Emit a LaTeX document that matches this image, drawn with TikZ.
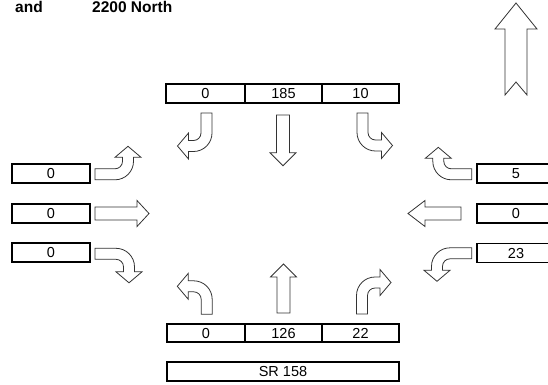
\documentclass[tikz,border=0pt]{standalone}
\usepackage{fontspec}
\setmainfont{Liberation Sans}
\tikzset{
  lanebox/.style={draw, line width=1.6pt, inner sep=0pt, minimum height=19pt,
    font=\fontsize{14.5}{14.5}\selectfont},
  headtext/.style={anchor=base west, inner sep=0pt,
    font=\fontsize{15.5}{15.5}\selectfont\bfseries},
  blockarrow/.style={draw=black!80, fill=white, line width=0.8pt, line join=miter},
  pics/bentarrow/.style args={#1/#2/#3}{code={
    \draw[blockarrow] (0,5.5) -- (#1,5.5) arc[start angle=90, end angle=0, radius={#2+5.5}]
      -- ({#1+#2+5.5},{-#2-#3}) -- ({#1+#2+13},{-#2-#3}) -- ({#1+#2},{-#2-#3-11})
      -- ({#1+#2-13},{-#2-#3}) -- ({#1+#2-5.5},{-#2-#3}) -- ({#1+#2-5.5},{-#2})
      arc[start angle=0, end angle=90, radius={#2-5.5}] -- (0,-5.5) -- cycle;
  }},
  pics/thruarrow/.style args={#1/#2}{code={
    \draw[blockarrow] (0,6.5) -- (#1,6.5) -- (#1,13) -- ({#1+#2},0) -- (#1,-13)
      -- (#1,-6.5) -- (0,-6.5) -- cycle;
  }},
}
\begin{document}
\begin{tikzpicture}[x=1pt,y=-1pt]
\useasboundingbox (0,0) rectangle (548,384);
\clip (0,0) rectangle (548,384);

\node[headtext] (lbl-and) at (15,12.7) {and};
\node[headtext] (lbl-road) at (92,12.7) {2200 North};

% north arrow
\draw[blockarrow] (505,95) -- (505,29) -- (495,29) -- (516,3) -- (537,29) -- (527,29)
  -- (527,95) -- (516,82) -- cycle;

% southbound
\node[lanebox, minimum width=79pt] (sb-right) at (205.5,93.5) {0};
\node[lanebox, minimum width=77pt] (sb-thru) at (283.5,93.5) {185};
\node[lanebox, minimum width=77pt] (sb-left) at (360.5,93.5) {10};
\pic[rotate=-90, yscale=-1] at (206.5,113) {bentarrow=20/13/5};
\pic[rotate=-90] at (283,115) {thruarrow=37.7/13};
\pic[rotate=-90] at (362.5,113) {bentarrow=19.5/13/6};

% northbound
\node[lanebox, minimum width=78pt, minimum height=18pt] (nb-left) at (206,333) {0};
\node[lanebox, minimum width=77pt, minimum height=18pt] (nb-thru) at (283.5,333) {126};
\node[lanebox, minimum width=77pt, minimum height=18pt] (nb-right) at (360.5,333) {22};
\node[lanebox, minimum width=232pt] (road-name) at (283,371.5) {SR 158};
\pic[rotate=90] at (206.7,314.3) {bentarrow=15/13/5.4};
\pic[rotate=90] at (283.5,313) {thruarrow=36/13};
\pic[rotate=90, yscale=-1] at (362,314) {bentarrow=18.5/13/5};

% eastbound
\node[lanebox, minimum width=78pt] (eb-left) at (51,173.5) {0};
\node[lanebox, minimum width=78pt] (eb-thru) at (51,213.5) {0};
\node[lanebox, minimum width=78pt] (eb-right) at (51,252.5) {0};
\pic at (95,174.3) {bentarrow=20/13/4};
\pic at (95,213.5) {thruarrow=42/12};
\pic[yscale=-1] at (95,253.8) {bentarrow=21/13/5};

% westbound
\node[lanebox, minimum width=78pt] (wb-right) at (516,173.5) {5};
\node[lanebox, minimum width=78pt] (wb-thru) at (516,213.5) {0};
\node[lanebox, minimum width=78pt] (wb-left) at (516,253) {23};
\pic[rotate=180, yscale=-1] at (471.7,174.3) {bentarrow=20.4/13/3};
\pic[rotate=180] at (461,213.5) {thruarrow=36/17};
\pic[rotate=180] at (471.7,253.3) {bentarrow=21.7/13/4};
\end{tikzpicture}
\end{document}
